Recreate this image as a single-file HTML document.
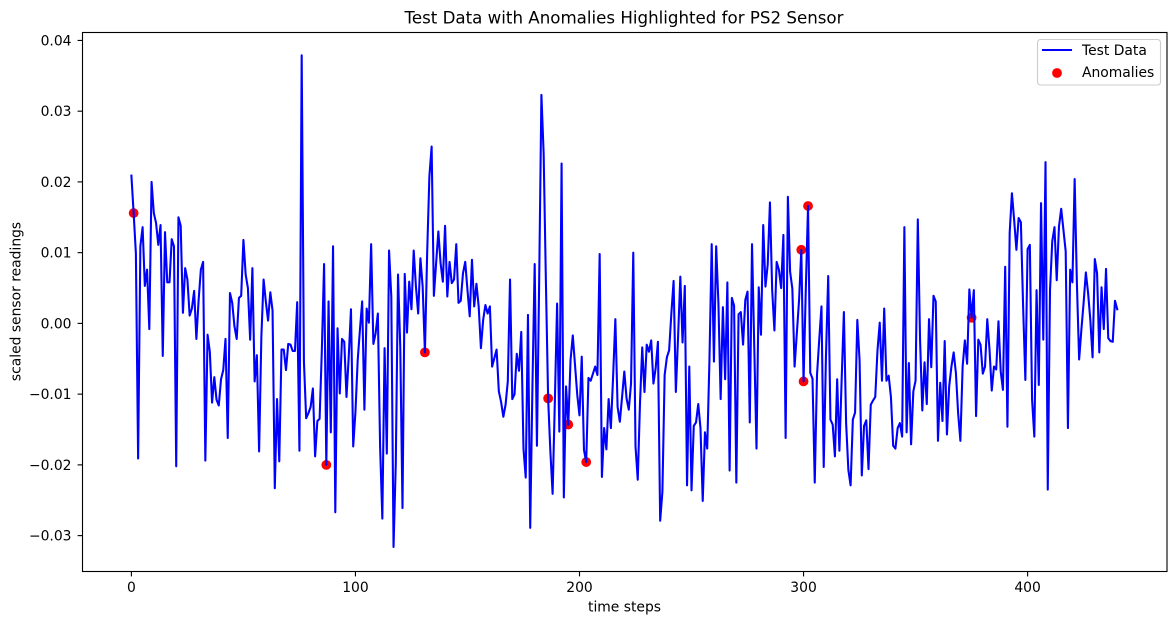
<!DOCTYPE html>
<html lang="en">
<head>
<meta charset="utf-8">
<title>Test Data with Anomalies Highlighted for PS2 Sensor</title>
<style>
html,body{margin:0;padding:0;background:#fff;width:1176px;height:624px;overflow:hidden}
svg{display:block}
text{font-family:"DejaVu Sans","Liberation Sans",sans-serif;fill:#000}
</style>
</head>
<body>
<svg id="chart" xmlns="http://www.w3.org/2000/svg" width="1176" height="624" viewBox="0 0 1176 624">
  <rect x="0" y="0" width="1176" height="624" fill="#fff"/>
  <g id="marks"></g>
  <g id="ticks"></g>
  <rect x="82.5" y="32.5" width="1084.5" height="539" fill="none" stroke="#000" stroke-width="1.11"/>
  <text x="624" y="23.5" font-size="16.67" text-anchor="middle">Test Data with Anomalies Highlighted for PS2 Sensor</text>
  <text x="624.5" y="611.5" font-size="13.89" text-anchor="middle">time steps</text>
  <text transform="translate(20.5 301.5) rotate(-90)" font-size="13.89" text-anchor="middle">scaled sensor readings</text>
  <g>
    <rect x="1037.5" y="39.5" width="123" height="45.5" rx="3" ry="3" fill="#fff" fill-opacity="0.8" stroke="#ccc" stroke-width="1.11"/>
    <line x1="1043" y1="50" x2="1071" y2="50" stroke="#0000ff" stroke-width="2.08" stroke-linecap="square"/>
    <text x="1082" y="55" font-size="13.89">Test Data</text>
    <circle cx="1057" cy="73" r="4.9" fill="#ff0000"/>
    <text x="1082" y="77" font-size="13.89">Anomalies</text>
  </g>
</svg>
<script>
const testData = [
0.0209,0.0156,0.0099,-0.0191,0.0109,0.0136,0.0053,0.0076,-0.0008,0.0200,
0.0156,0.0142,0.0111,0.0139,-0.0046,0.0129,0.0058,0.0058,0.0119,0.0109,
-0.0202,0.0150,0.0138,0.0015,0.0078,0.0062,0.0011,0.0021,0.0046,-0.0022,
0.0033,0.0076,0.0087,-0.0194,-0.0016,-0.0040,-0.0112,-0.0076,-0.0108,-0.0116,
-0.0079,-0.0066,-0.0022,-0.0162,0.0043,0.0029,-0.0004,-0.0022,0.0036,0.0039,
0.0118,0.0069,0.0050,-0.0023,0.0078,-0.0082,-0.0045,-0.0181,-0.0019,0.0062,
0.0031,0.0004,0.0044,0.0018,-0.0233,-0.0107,-0.0195,-0.0037,-0.0037,-0.0066,
-0.0029,-0.0030,-0.0039,-0.0039,0.0030,-0.0180,0.0379,-0.0054,-0.0134,-0.0127,
-0.0118,-0.0092,-0.0188,-0.0138,-0.0135,-0.0038,0.0084,-0.0200,0.0031,-0.0154,
0.0109,-0.0267,-0.0007,-0.0099,-0.0022,-0.0026,-0.0104,-0.0047,0.0020,-0.0174,
-0.0125,-0.0052,-0.0009,0.0031,-0.0122,0.0021,0.0001,0.0112,-0.0029,-0.0014,
0.0014,-0.0174,-0.0276,-0.0035,-0.0184,0.0103,0.0038,-0.0316,-0.0198,0.0069,
-0.0033,-0.0261,0.0070,-0.0013,0.0059,0.0020,0.0103,0.0052,0.0014,0.0092,
0.0052,-0.0041,0.0099,0.0208,0.0250,0.0039,0.0085,0.0130,0.0085,0.0059,
0.0138,0.0038,0.0087,0.0057,0.0062,0.0112,0.0029,0.0032,0.0071,0.0087,
0.0047,0.0010,0.0090,0.0024,0.0056,0.0024,-0.0035,0.0005,0.0026,0.0014,
0.0024,-0.0061,-0.0049,-0.0037,-0.0096,-0.0111,-0.0132,-0.0115,-0.0082,0.0062,
-0.0107,-0.0100,-0.0043,-0.0067,-0.0012,-0.0177,-0.0218,0.0012,-0.0289,-0.0087,
0.0084,-0.0173,0.0060,0.0323,0.0240,0.0059,-0.0106,-0.0181,-0.0241,-0.0110,
0.0028,-0.0153,0.0226,-0.0246,-0.0089,-0.0143,-0.0052,-0.0017,-0.0059,-0.0101,
-0.0130,-0.0047,-0.0179,-0.0196,-0.0077,-0.0081,-0.0071,-0.0061,-0.0073,0.0098,
-0.0217,-0.0148,-0.0178,-0.0107,-0.0148,-0.0075,0.0006,-0.0118,-0.0139,-0.0104,
-0.0068,-0.0106,-0.0122,-0.0085,0.0100,-0.0174,-0.0221,-0.0113,-0.0034,-0.0097,
-0.0030,-0.0040,-0.0024,-0.0085,-0.0063,-0.0026,-0.0279,-0.0238,-0.0073,-0.0048,
-0.0038,0.0014,0.0060,-0.0097,-0.0019,0.0066,-0.0027,0.0053,-0.0229,-0.0061,
-0.0236,-0.0145,-0.0140,-0.0114,-0.0148,-0.0251,-0.0154,-0.0177,-0.0052,0.0112,
-0.0054,0.0109,0.0029,-0.0107,0.0023,-0.0079,0.0058,-0.0208,0.0036,0.0025,
-0.0225,0.0013,0.0016,-0.0030,0.0033,0.0045,-0.0140,0.0112,-0.0033,-0.0177,
0.0051,-0.0016,0.0139,0.0052,0.0083,0.0171,0.0047,-0.0010,0.0087,0.0076,
0.0050,0.0125,-0.0162,0.0179,0.0073,0.0049,-0.0061,-0.0014,0.0033,0.0104,
-0.0082,0.0047,0.0166,-0.0070,-0.0078,-0.0225,-0.0073,-0.0023,0.0024,-0.0203,
-0.0047,0.0067,-0.0136,-0.0143,-0.0188,-0.0079,-0.0180,-0.0080,0.0016,-0.0141,
-0.0207,-0.0229,-0.0136,-0.0126,0.0005,-0.0052,-0.0215,-0.0145,-0.0137,-0.0206,
-0.0115,-0.0109,-0.0104,-0.0038,0.0001,-0.0081,0.0021,-0.0081,-0.0074,-0.0104,
-0.0173,-0.0177,-0.0148,-0.0141,-0.0160,0.0136,-0.0154,-0.0056,-0.0171,-0.0096,
-0.0081,0.0147,-0.0023,-0.0123,-0.0055,-0.0114,0.0006,-0.0062,0.0039,0.0031,
-0.0166,-0.0084,-0.0138,-0.0025,-0.0157,-0.0089,-0.0061,-0.0041,-0.0070,-0.0127,
-0.0166,-0.0061,-0.0024,-0.0057,0.0048,0.0008,0.0047,-0.0131,-0.0023,-0.0030,
-0.0071,-0.0061,0.0006,-0.0037,-0.0095,-0.0061,-0.0065,0.0003,-0.0068,-0.0094,
0.0080,-0.0146,0.0128,0.0184,0.0146,0.0104,0.0149,0.0143,0.0024,-0.0080,
0.0105,0.0111,-0.0108,-0.0160,0.0047,-0.0087,0.0170,-0.0023,0.0228,-0.0235,
0.0047,0.0116,0.0136,0.0061,0.0137,0.0162,0.0132,0.0102,-0.0148,0.0076,
0.0058,0.0204,0.0057,-0.0051,-0.0009,0.0029,0.0072,0.0043,0.0005,-0.0048,
0.0091,0.0071,-0.0041,0.0051,-0.0008,0.0077,-0.0021,-0.0025,-0.0026,0.0032,0.0020
];
const anomalySteps = [1,87,131,186,195,203,299,300,302,375];
const anomalyValues = [0.0156,-0.0200,-0.0041,-0.0106,-0.0143,-0.0196,0.0104,-0.0082,0.0166,0.0008];
const xTickValues = [0,100,200,300,400];
const xTickLabels = ["0","100","200","300","400"];
const yTickValues = [-0.03,-0.02,-0.01,0,0.01,0.02,0.03,0.04];
const yTickLabels = ["\u22120.03","\u22120.02","\u22120.01","0.00","0.01","0.02","0.03","0.04"];

const NS = 'http://www.w3.org/2000/svg';
const marks = document.getElementById('marks');
const ticks = document.getElementById('ticks');
function xScale(v){ return 131.4 + v * 2.2405; }
function yScale(v){ return 323.4 - v * 7074; }

anomalySteps.forEach(function(step, i){
  const c = document.createElementNS(NS, 'circle');
  
  
  c.setAttribute('cx', xScale(step).toFixed(2));
  c.setAttribute('cy', yScale(anomalyValues[i]).toFixed(2));
  c.setAttribute('r', '4.9');
  c.setAttribute('fill', '#ff0000');
  marks.appendChild(c);
});

const line = document.createElementNS(NS, 'polyline');


line.setAttribute('points', testData.map(function(v, i){
  return xScale(i).toFixed(2) + ',' + yScale(v).toFixed(2);
}).join(' '));
line.setAttribute('fill', 'none');
line.setAttribute('stroke', '#0000ff');
line.setAttribute('stroke-width', '2.08');
line.setAttribute('stroke-linejoin', 'round');
line.setAttribute('stroke-linecap', 'square');
marks.appendChild(line);

xTickValues.forEach(function(v, i){
  const px = xScale(v);
  const t = document.createElementNS(NS, 'line');
  
  
  t.setAttribute('x1', px);
  t.setAttribute('x2', px);
  t.setAttribute('y1', 571.5);
  t.setAttribute('y2', 576.4);
  t.setAttribute('stroke', '#000');
  t.setAttribute('stroke-width', '1.11');
  ticks.appendChild(t);
  const l = document.createElementNS(NS, 'text');
  
  
  l.setAttribute('x', px);
  l.setAttribute('y', 592);
  l.setAttribute('font-size', '13.89');
  l.setAttribute('text-anchor', 'middle');
  l.textContent = xTickLabels[i];
  ticks.appendChild(l);
});

yTickValues.forEach(function(v, i){
  const py = yScale(v);
  const t = document.createElementNS(NS, 'line');
  
  
  t.setAttribute('x1', 77.6);
  t.setAttribute('x2', 82.5);
  t.setAttribute('y1', py);
  t.setAttribute('y2', py);
  t.setAttribute('stroke', '#000');
  t.setAttribute('stroke-width', '1.11');
  ticks.appendChild(t);
  const l = document.createElementNS(NS, 'text');
  
  
  l.setAttribute('x', 71.5);
  l.setAttribute('y', py + 5);
  l.setAttribute('font-size', '13.89');
  l.setAttribute('text-anchor', 'end');
  l.textContent = yTickLabels[i];
  ticks.appendChild(l);
});
</script>
</body>
</html>
